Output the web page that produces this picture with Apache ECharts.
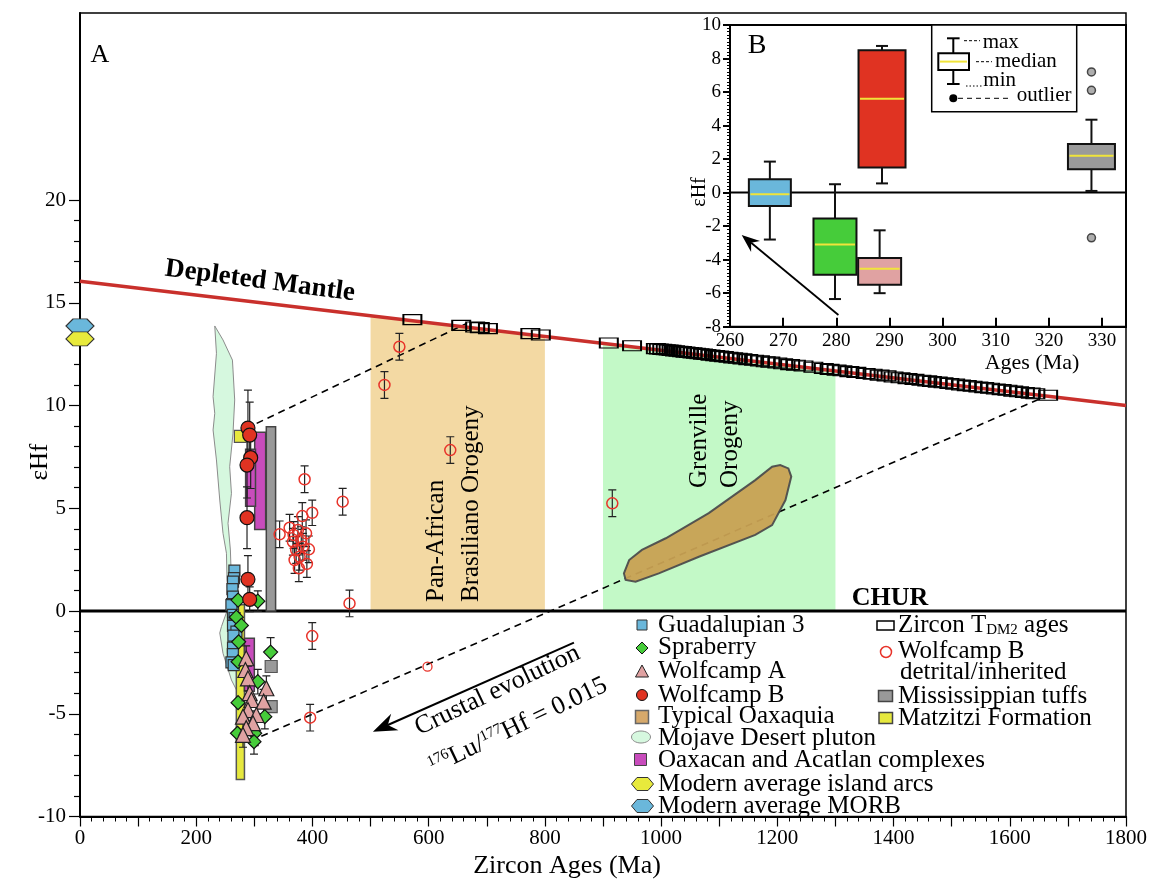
<!DOCTYPE html>
<html><head><meta charset="utf-8">
<script src="https://cdn.jsdelivr.net/npm/echarts@6/dist/echarts.min.js"></script>
<style>html,body{margin:0;padding:0;background:#fff}#c{width:1150px;height:879px}</style>
</head><body><div id="c"></div>
<script>
const F = "'Liberation Serif','Times New Roman',serif";

// ---------------- Panel A data ----------------
const xTickLabels = [0,200,400,600,800,1000,1200,1400,1600,1800];
const dmLine = [[0,16.05],[1800,10.0]];
const churLine = [[0,0],[1800,0]];
const upperDashed = [[304,9.13],[666,14.0]];
const lowerDashed = [[312,-6.1],[1663,10.46]];
const crustalArrow = [[850,-1.54,504,-5.87]];
const panAfricanBand = [[500,0],[800,0],[800,13.36],[500,14.37]];
const grenvilleBand = [[900,0],[1300,0],[1300,11.68],[900,13.03]];
const mojavePluton = [[231.9,13.87],[234.8,12.54],[229,10.43],[231.9,9.62],[229,8.81],[234.8,7.35],[240.5,5.40],[246.1,3.78],[252,2.81],[253,1.51],[257.6,0.37],[243.4,-0.76],[240.5,-1.07],[246.1,-2.06],[260.6,-3.36],[271.9,-3.99],[278,-3.36],[274.8,-1.9],[268,-0.44],[261,1.02],[258.8,2.97],[254.7,4.27],[260.6,5.73],[257.6,7.02],[263.3,8.65],[266.2,10.27],[263.3,11.73],[262.3,12.21],[246.1,13.19]];
const oaxaquiaField = [[936,1.83],[945,2.48],[967,2.97],[1008,3.54],[1082,4.76],[1162,6.37],[1191,7.02],[1205,7.10],[1219,6.94],[1224,6.54],[1214,5.40],[1191,4.18],[1162,3.70],[1065,2.64],[996,1.83],[956,1.43],[939,1.51]];
const guadalupian = [[265.7,1.96],[265,1.6],[263.3,1.43],[262.3,1.06],[263.3,0.70],[261.6,0.34],[263.3,-0.05],[260.6,0.29],[263.3,-0.19],[266,-0.35],[268,-0.52],[263.3,-0.73],[269.2,-1.0],[264,-1.2],[263.3,-1.78],[263,-2.1],[260.6,-2.5],[264.5,-2.63]];
const spraberry = [[272,0.53,0],[306,0.48,0.5],[269,-0.3,0],[277.7,-0.7,0],[273,-1.5,0],[328,-2.0,0.7],[272,-2.47,0],[306,-3.44,0.6],[272,-4.46,0],[318,-5.14,0.6],[271,-5.95,0],[300.6,-5.95,0.6],[299.4,-6.36,0.6]];
const wolfcampA = [[286,-2.3,0.6],[284.6,-2.87,0],[289,-3.28,0.6],[320.7,-3.76,0.6],[292,-4.0,0],[295,-4.33,0],[316,-4.41,0.6],[289,-4.82,0.6],[303.5,-5.06,0],[280.5,-5.14,0],[297.7,-5.46,0.6],[286,-5.7,0],[280.5,-6.03,0.6]];
const wolfcampB = [[289,8.9,1.85],[292,8.56,1.6],[293.7,7.46,1.5],[287.4,7.1,1.6],[287.4,4.54,1.5],[289,1.54,1.15],[292,0.57,0.6]];
const wolfcampBDetrital = [[386.5,6.41,0.65],[452,5.32,0.65],[463.8,0.37,0.65],[343.5,3.73,0.65],[382.5,4.62,0.65],[399.6,4.78,0.62],[360.7,4.05,0.65],[375,3.94,0.65],[389,3.78,0.65],[366.4,3.37,0.65],[380.8,3.45,0.65],[383.6,3.13,0.65],[393.9,3.0,0.65],[372,2.97,0.65],[377.9,2.64,0.65],[369.3,2.48,0.65],[390.4,2.29,0.65],[376.6,2.08,0.65],[367.6,3.7,0.65],[399.6,-1.22,0.65],[396,-5.19,0.65],[549.6,12.86,0.65],[523.9,11.0,0.65],[637.2,7.83,0.65],[916,5.24,0.65]];
const wolfcampBDetritalSmall = [[598,-2.71]];
const mississippianTuffs = [[329,-2.7],[329,-4.65]];
const matzitzi = [[276,8.5]];
const oaxacanRanges = [[300.6,319.5,3.97,8.7],[285,302,5.1,7.87],[283,300,-3.9,-1.33]];
const mississippianRanges = [[320.6,336.6,0,8.97]];
const matzitziRanges = [[269,283,-8.2,0.3]];
const morb = [[0,13.87]];
const islandArcs = [[0,13.24]];
const zirconTDM2 = [[572,14.18],[656,13.9],[680,13.82],[688,13.79],[702,13.74],[775,13.5],[793,13.43],[910,13.04],[950,12.91],
 [991,12.77],[996,12.75],[1002,12.73],[1008,12.71],[1013,12.7],[1018,12.68],[1024,12.66],[1030,12.64],[1036,12.62],[1042,12.6],[1048,12.58],[1054,12.56],[1060,12.54],[1066,12.52],[1072,12.5],[1078,12.48],[1085,12.45],[1093,12.43],
 [1100,12.4],[1108,12.38],[1116,12.35],[1124,12.32],[1132,12.3],[1140,12.27],[1150,12.23],[1160,12.2],[1170,12.17],[1180,12.13],[1188,12.11],
 [1200,12.07],[1210,12.03],[1222,11.99],[1232,11.96],[1245,11.92],[1262,11.86],[1280,11.8],[1290,11.76],
 [1302,11.72],[1312,11.69],[1324,11.65],[1336,11.61],[1352,11.56],[1364,11.52],[1376,11.48],[1388,11.44],[1400,11.39],[1412,11.35],[1424,11.31],[1436,11.27],[1448,11.23],[1458,11.2],
 [1466,11.17],[1476,11.14],[1486,11.11],[1496,11.07],[1506,11.04],[1516,11.0],[1526,10.97],[1536,10.94],[1546,10.9],[1556,10.87],[1566,10.84],[1576,10.8],[1586,10.77],[1596,10.74],[1606,10.7],[1616,10.67],[1626,10.63],[1636,10.6],[1644,10.57],[1666,10.5]];

// ---------------- Panel B data ----------------
const insetCenters = [267.5, 279.75, 288.6, 288.15, 328];
const insetStats = [[-2.8,-0.8,-0.1,0.8,1.85],[-6.35,-4.9,-3.1,-1.55,0.5],[0.55,1.5,5.6,8.5,8.75],[-6.0,-5.5,-4.55,-3.9,-2.25],[0.1,1.4,2.2,2.9,4.35]];
const insetOutliers = [[328,7.2],[328,6.1],[328,-2.7]];
const insetArrow = [[280.4,-7.3,262.2,-2.53]];
const insetZero = [[260,0],[334.5,0]];

// ---------------- styles ----------------
const insetColors = ['#6ab7db','#46cc3a','#e03322','#e0a2a2','#9a9a9a'];
const insetBoxWidthPx = [42,43,47,43,47];

function polySeries(points, fill, stroke, lw, z, opacity){
  return {type:'custom', xAxisIndex:0, yAxisIndex:0, z, silent:true, clip:true, data:[0],
    renderItem:(params, api)=>({type:'polygon', shape:{points: points.map(p=>api.coord(p))},
      style:{fill, stroke: stroke||null, lineWidth: lw||0, opacity: opacity==null?1:opacity}})};
}
function rangeSeries(data, fill, stroke, z){
  return {type:'custom', xAxisIndex:0, yAxisIndex:0, z, silent:true, clip:true, data,
    renderItem:(params, api)=>{
      const a = api.coord([api.value(0), api.value(3)]), b = api.coord([api.value(1), api.value(2)]);
      return {type:'rect', shape:{x:a[0], y:a[1], width:b[0]-a[0], height:b[1]-a[1]}, style:{fill, stroke, lineWidth:1.5}};
    }};
}
function errorBars(arrs){
  const d = [];
  arrs.forEach(arr=>arr.forEach(p=>{ if (p[2] > 0) d.push([p[0], p[1]-p[2], p[1]+p[2]]); }));
  return d;
}
function errorBarSeries(data, z){
  return {type:'custom', xAxisIndex:0, yAxisIndex:0, z, silent:true, clip:true, data,
    renderItem:(params, api)=>{
      const lo = api.coord([api.value(0), api.value(1)]), hi = api.coord([api.value(0), api.value(2)]);
      const c = 4, st = {stroke:'#222', lineWidth:1.2};
      return {type:'group', children:[
        {type:'line', shape:{x1:lo[0],y1:lo[1],x2:hi[0],y2:hi[1]}, style:st},
        {type:'line', shape:{x1:lo[0]-c,y1:lo[1],x2:lo[0]+c,y2:lo[1]}, style:st},
        {type:'line', shape:{x1:hi[0]-c,y1:hi[1],x2:hi[0]+c,y2:hi[1]}, style:st}]};
    }};
}
function arrowSeries(xi, yi, data, headL, headW, lw, z){
  return {type:'custom', xAxisIndex:xi, yAxisIndex:yi, z, silent:true, clip:false, data,
    renderItem:(params, api)=>{
      const a = api.coord([api.value(0), api.value(1)]), b = api.coord([api.value(2), api.value(3)]);
      const dx=b[0]-a[0], dy=b[1]-a[1], L=Math.hypot(dx,dy), ux=dx/L, uy=dy/L, nx=-uy, ny=ux;
      const back=[b[0]-ux*headL, b[1]-uy*headL], notch=[b[0]-ux*headL*0.68, b[1]-uy*headL*0.68];
      return {type:'group', children:[
        {type:'line', shape:{x1:a[0],y1:a[1],x2:notch[0],y2:notch[1]}, style:{stroke:'#000', lineWidth:lw}},
        {type:'polygon', shape:{points:[b,[back[0]+nx*headW, back[1]+ny*headW], notch, [back[0]-nx*headW, back[1]-ny*headW]]}, style:{fill:'#000'}}]};
    }};
}
function scatter(data, symbol, size, fill, border, bw, z, extra){
  return Object.assign({type:'scatter', xAxisIndex:0, yAxisIndex:0, z, silent:true, clip:false,
    data: data.map(p=>[p[0],p[1]]), symbol, symbolSize:size,
    itemStyle:{color:fill, borderColor:border, borderWidth:bw, opacity:1}}, extra||{});
}
const hexPath = 'path://M0,5 L3,0 L9,0 L12,5 L9,10 L3,10 Z';

const insetBoxData = insetCenters.map((c,i)=>[c].concat(insetStats[i]).concat([i]));

const series = [
  polySeries(panAfricanBand, '#f3d9a3', null, 0, 1),
  polySeries(grenvilleBand, '#c3f9c7', null, 0, 1),
  polySeries(mojavePluton, '#d6f8df', '#8c8c8c', 1, 2),
  {type:'line', xAxisIndex:0, yAxisIndex:0, z:3, silent:true, data:upperDashed, symbol:'none', lineStyle:{color:'#000', width:1.6, type:[7,5]}},
  {type:'line', xAxisIndex:0, yAxisIndex:0, z:3, silent:true, data:lowerDashed, symbol:'none', lineStyle:{color:'#000', width:1.6, type:[7,5]}},
  polySeries(oaxaquiaField, '#c8a153', '#4d4d4d', 2, 4, 0.95),
  {type:'line', xAxisIndex:0, yAxisIndex:0, z:5, silent:true, data:dmLine, symbol:'none', lineStyle:{color:'#c9302c', width:3.5}},
  {type:'line', xAxisIndex:0, yAxisIndex:0, z:5, silent:true, data:churLine, symbol:'none', lineStyle:{color:'#000', width:3.2}},
  rangeSeries(matzitziRanges, '#e6e83e', '#555', 6),
  rangeSeries(oaxacanRanges, '#c84cbc', '#444', 6),
  rangeSeries(mississippianRanges, '#999', '#444', 6),
  errorBarSeries(errorBars([wolfcampB, wolfcampBDetrital, spraberry, wolfcampA]), 7),
  scatter(guadalupian, 'rect', 11, '#6ab7db', '#333', 1.2, 8),
  scatter(matzitzi, 'rect', 12, '#e6e83e', '#555', 1.2, 8),
  scatter(mississippianTuffs, 'rect', 12, '#999', '#555', 1.2, 8),
  scatter(spraberry, 'diamond', 14, '#46cc3a', '#111', 1.2, 9),
  scatter(wolfcampA, 'triangle', 15, '#e0a2a2', '#222', 1.2, 9),
  scatter(wolfcampB, 'circle', 14, '#e03322', '#111', 1.2, 10),
  scatter(wolfcampBDetrital, 'circle', 11, 'rgba(255,255,255,0)', '#e8332a', 1.5, 10),
  scatter(wolfcampBDetritalSmall, 'circle', 9, 'rgba(255,255,255,0)', '#e8332a', 1.3, 10),
  scatter(zirconTDM2, 'rect', [18,10], 'rgba(255,255,255,0)', '#000', 1.5, 10),
  scatter(morb, hexPath, [28,14], '#6ab7db', '#333', 1, 10),
  scatter(islandArcs, hexPath, [28,14], '#e8ea3c', '#333', 1, 10),
  arrowSeries(0, 0, crustalArrow, 24, 9, 2, 11),
  // inset
  {type:'line', xAxisIndex:2, yAxisIndex:2, z:20, silent:true, data:insetZero, symbol:'none', lineStyle:{color:'#000', width:2}},
  {type:'custom', xAxisIndex:2, yAxisIndex:2, z:21, silent:true, clip:false, data:insetBoxData,
    renderItem:(params, api)=>{
      const x = api.value(0), i = api.value(6), w = insetBoxWidthPx[i]/2;
      const pMin=api.coord([x,api.value(1)]), pQ1=api.coord([x,api.value(2)]), pMed=api.coord([x,api.value(3)]), pQ3=api.coord([x,api.value(4)]), pMax=api.coord([x,api.value(5)]);
      const cx = pMin[0], st={stroke:'#111', lineWidth:2}, cap=6;
      return {type:'group', children:[
        {type:'line', shape:{x1:cx,y1:pMax[1],x2:cx,y2:pQ3[1]}, style:st},
        {type:'line', shape:{x1:cx,y1:pQ1[1],x2:cx,y2:pMin[1]}, style:st},
        {type:'line', shape:{x1:cx-cap,y1:pMax[1],x2:cx+cap,y2:pMax[1]}, style:st},
        {type:'line', shape:{x1:cx-cap,y1:pMin[1],x2:cx+cap,y2:pMin[1]}, style:st},
        {type:'rect', shape:{x:cx-w, y:pQ3[1], width:2*w, height:pQ1[1]-pQ3[1]}, style:{fill:insetColors[i], stroke:'#111', lineWidth:2}},
        {type:'line', shape:{x1:cx-w+1.5,y1:pMed[1],x2:cx+w-1.5,y2:pMed[1]}, style:{stroke:'#f0e43a', lineWidth:2}}]};
    }},
  {type:'scatter', xAxisIndex:2, yAxisIndex:2, z:22, silent:true, data:insetOutliers, symbol:'circle', symbolSize:8, itemStyle:{color:'#9a9a9a', borderColor:'#222', borderWidth:1.5}},
  arrowSeries(2, 2, insetArrow, 18, 7, 1.8, 22)
];

function T(text, x, y, o){
  o = o || {};
  return {type:'text', x, y, rotation:o.rot||0, z:100, silent:true,
    style:{text, fill:o.color||'#000', fontSize:o.size||25, fontFamily:F, fontWeight:o.bold?'bold':'normal',
      textAlign:o.align||'left', align:o.align||'left', textVerticalAlign:'middle', verticalAlign:'middle', rich:o.rich}};
}
function R(x,y,w,h,fill,stroke,lw){ return {type:'rect', z:100, silent:true, shape:{x,y,width:w,height:h}, style:{fill, stroke, lineWidth:lw||1}}; }
function Ln(x1,y1,x2,y2,lw,dash){ return {type:'line', z:100, silent:true, shape:{x1,y1,x2,y2}, style:{stroke:'#000', lineWidth:lw||1, lineDash:dash||null}}; }
function hexPts(cx,cy,w,h){ return [[cx-w/2,cy],[cx-w*0.25,cy-h/2],[cx+w*0.25,cy-h/2],[cx+w/2,cy],[cx+w*0.25,cy+h/2],[cx-w*0.25,cy+h/2]]; }

const sup = {p:{fontSize:15, fontFamily:F, lineHeight:11, verticalAlign:'top'}, b:{fontSize:26, fontFamily:F, lineHeight:26}};
const sub = {a:{fontSize:25, fontFamily:F, lineHeight:25}, s:{fontSize:15, fontFamily:F, lineHeight:9, verticalAlign:'bottom'}};

const graphic = [
  T('A', 100, 55, {size:26, align:'center'}),
  T('Depleted Mantle', 260, 281, {size:27, bold:true, align:'center', rot:-0.131}),
  T('CHUR', 890, 598, {size:26, bold:true, align:'center'}),
  T('Pan-African', 436, 602, {size:25, rot:Math.PI/2}),
  T('Brasiliano Orogeny', 471, 602, {size:25, rot:Math.PI/2}),
  T('Grenville', 699, 488, {size:25, rot:Math.PI/2}),
  T('Orogeny', 730, 488, {size:25, rot:Math.PI/2}),
  T('Crustal evolution', 497.5, 690.5, {size:26, align:'center', rot:0.445}),
  T('{p|176}{b|Lu/}{p|177}{b|Hf = 0.015}', 518, 726, {size:26, align:'center', rot:0.445, rich:sup}),
  T('εHf', 40, 462, {size:25, align:'center', rot:Math.PI/2}),
  T('Zircon Ages (Ma)', 567, 866, {size:26, align:'center'}),
  // inset texts
  T('B', 757, 46, {size:28, align:'center'}),
  T('εHf', 700, 192, {size:20, align:'center', rot:Math.PI/2}),
  T('Ages (Ma)', 1032, 363, {size:22, align:'center'}),
  // inset legend
  R(931.7, 25, 145, 86.7, '#fff', '#000', 1.5),
  Ln(953.3,38.3,953.3,53.3,2), Ln(953.3,70,953.3,84,2), Ln(947,38.3,959.6,38.3,2), Ln(947,84,959.6,84,2),
  R(938.3, 53.3, 30.7, 16.7, '#fff', '#000', 2),
  {type:'line', z:101, silent:true, shape:{x1:940,y1:61.6,x2:967,y2:61.6}, style:{stroke:'#f0e43a', lineWidth:2}},
  {type:'circle', z:100, silent:true, shape:{cx:953.3, cy:98.3, r:4}, style:{fill:'#000'}},
  Ln(964,40.7,980,40.7,1,[3,2]), Ln(976,61.7,992,61.7,1,[3,2]), Ln(966,86,982,86,1,[1.5,2]), Ln(958,98.3,1012,98.3,1,[5,4]),
  T('max', 982.7, 42.3, {size:21}), T('median', 995, 61, {size:21}), T('min', 983.3, 80, {size:21}), T('outlier', 1016.7, 95, {size:21}),
  // main legend column 1
  R(637, 620, 10, 10, '#6ab7db', '#333', 1),
  {type:'polygon', z:100, silent:true, shape:{points:[[642,642],[648,648],[642,654],[636,648]]}, style:{fill:'#46cc3a', stroke:'#111', lineWidth:1}},
  {type:'polygon', z:100, silent:true, shape:{points:[[642,665],[648.5,677],[635.5,677]]}, style:{fill:'#e0a2a2', stroke:'#222', lineWidth:1}},
  {type:'circle', z:100, silent:true, shape:{cx:642, cy:695, r:5.5}, style:{fill:'#e03322', stroke:'#111', lineWidth:1}},
  R(635.5, 710.5, 13, 13, '#d6a96b', '#666', 1.5),
  {type:'ellipse', z:100, silent:true, shape:{cx:641, cy:737, rx:9.5, ry:6}, style:{fill:'#d6f8df', stroke:'#8c8c8c', lineWidth:1}},
  R(634.5, 753.5, 12, 12, '#c84cbc', '#444', 1),
  {type:'polygon', z:100, silent:true, shape:{points:hexPts(642.5,784,22,13)}, style:{fill:'#e8ea3c', stroke:'#333', lineWidth:1}},
  {type:'polygon', z:100, silent:true, shape:{points:hexPts(642.5,806,22,13)}, style:{fill:'#6ab7db', stroke:'#333', lineWidth:1}},
  T('Guadalupian 3', 658, 625), T('Spraberry', 658, 647), T('Wolfcamp A', 658, 671.5), T('Wolfcamp B', 658, 695),
  T('Typical Oaxaquia', 658, 716.5), T('Mojave Desert pluton', 658, 738.5), T('Oaxacan and Acatlan complexes', 658, 760),
  T('Modern average island arcs', 658, 784), T('Modern average MORB', 658, 806),
  // column 2
  R(877, 621, 17, 9, 'rgba(0,0,0,0)', '#000', 1.5),
  {type:'circle', z:100, silent:true, shape:{cx:886, cy:652, r:5.5}, style:{fill:'rgba(0,0,0,0)', stroke:'#e8332a', lineWidth:1.5}},
  R(878.5, 690.5, 14, 11, '#999', '#444', 1.5),
  R(879, 712.5, 13.5, 11, '#e6e83e', '#444', 1.5),
  T('{a|Zircon T}{s|DM2}{a| ages}', 898, 625, {rich:sub}),
  T('Wolfcamp B', 898, 651.5), T('detrital/inherited', 900, 672), T('Mississippian tuffs', 898, 696), T('Matzitzi Formation', 898, 718.5)
];

const axisLabelBase = {color:'#000', fontFamily:F};
const option = {
  animation:false,
  backgroundColor:'#fff',
  grid:[
    {left:80, right:22, top:13, bottom:62.5, show:true, borderColor:'#000', borderWidth:1.5},
    {left:80, right:22, top:200, bottom:62.5, show:false},
    {left:730, right:24, top:25, bottom:552.3, show:true, borderColor:'#000', borderWidth:2}
  ],
  xAxis:[
    {gridIndex:0, type:'value', min:0, max:1800, interval:100,
      axisLine:{show:true, onZero:false, lineStyle:{color:'#000', width:2}},
      axisTick:{show:true, length:10, lineStyle:{color:'#000', width:1.2}},
      minorTick:{show:true, splitNumber:5, length:5, lineStyle:{color:'#000', width:1}},
      axisLabel:Object.assign({fontSize:21, margin:11, formatter:v=> xTickLabels.indexOf(v)>=0 ? String(v) : ''}, axisLabelBase),
      splitLine:{show:false}},
    {gridIndex:1, type:'value', min:0, max:1800, show:false},
    {gridIndex:2, type:'value', min:260, max:334.5, interval:10,
      axisLine:{show:true, onZero:false, lineStyle:{color:'#000', width:2}},
      axisTick:{show:true, inside:true, length:9, lineStyle:{color:'#000', width:2}},
      axisLabel:Object.assign({fontSize:19, margin:5, formatter:v=> (v<=330 && v%10===0) ? String(v) : ''}, axisLabelBase),
      splitLine:{show:false}}
  ],
  yAxis:[
    {gridIndex:0, type:'value', min:-10, max:29.1,
      axisLine:{show:true, onZero:false, lineStyle:{color:'#000', width:2}},
      axisTick:{show:false}, axisLabel:{show:false}, splitLine:{show:false}},
    {gridIndex:1, type:'value', min:-10, max:20, interval:5,
      axisLine:{show:false}, 
      axisTick:{show:true, length:11, lineStyle:{color:'#000', width:1.2}},
      minorTick:{show:true, splitNumber:5, length:6, lineStyle:{color:'#000', width:1.2}},
      axisLabel:Object.assign({fontSize:21, margin:14}, axisLabelBase),
      splitLine:{show:false}},
    {gridIndex:2, type:'value', min:-8, max:10, interval:2,
      axisLine:{show:true, onZero:false, lineStyle:{color:'#000', width:2}},
      axisTick:{show:true, length:7, lineStyle:{color:'#000', width:2}},
      minorTick:{show:true, splitNumber:10, length:3, lineStyle:{color:'#000', width:1}},
      axisLabel:Object.assign({fontSize:19, margin:9}, axisLabelBase),
      splitLine:{show:false}}
  ],
  series,
  graphic
};
const chart = echarts.init(document.getElementById('c'), null, {renderer:'canvas'});
chart.setOption(option);
</script></body></html>
